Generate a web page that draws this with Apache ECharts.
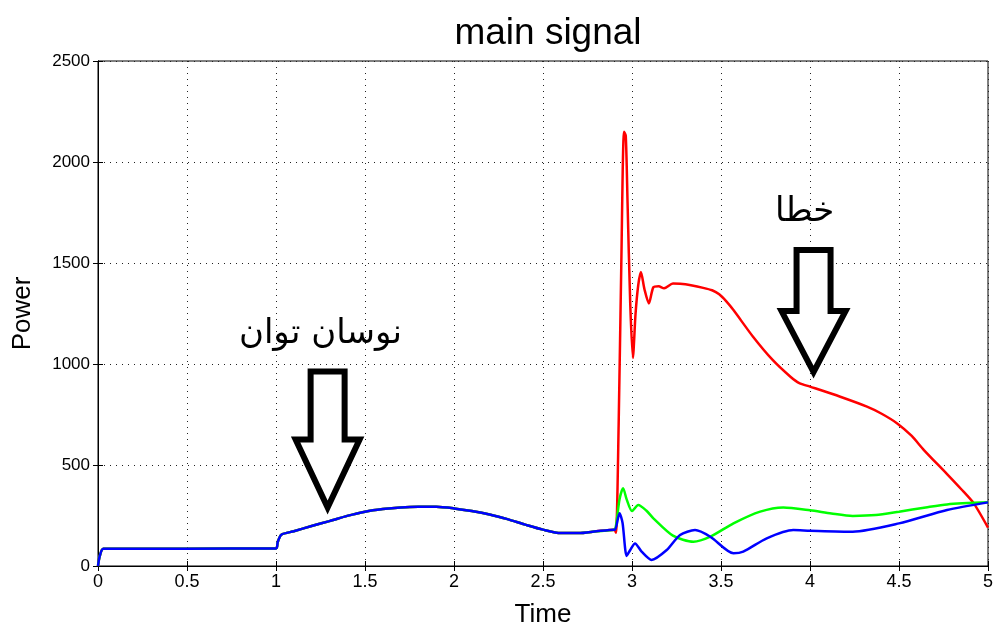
<!DOCTYPE html>
<html>
<head>
<meta charset="utf-8">
<script src="https://cdn.jsdelivr.net/npm/echarts@6/dist/echarts.min.js"></script>
<style>
html, body { margin: 0; padding: 0; background: #fff; }
#main { width: 994px; height: 626px; }
</style>
</head>
<body>
<div id="main"></div>
<script>
// shared part of all three signals (they overlap until the fault)
var commonT = [0, 0.01, 0.03, 0.5, 1.0, 1.01, 1.03, 1.1, 1.2, 1.3, 1.4, 1.5, 1.6, 1.7, 1.8, 1.9, 2.0, 2.1, 2.2, 2.3, 2.4, 2.5, 2.6, 2.7, 2.8, 2.9];
var commonV = [0, 50, 85, 86, 87, 120, 155, 172, 198, 222, 248, 269, 282, 290, 293, 293, 285, 272, 255, 232, 205, 180, 163, 163, 172, 180];

// after the fault
var redT = [2.91, 2.925, 2.94, 2.955, 2.965, 2.975, 2.99, 3.005, 3.02, 3.035, 3.05, 3.07, 3.095, 3.12, 3.15, 3.18, 3.23, 3.3, 3.4, 3.45, 3.49, 3.53, 3.57, 3.68, 3.79, 3.89, 3.94, 4.0, 4.17, 4.32, 4.4, 4.49, 4.57, 4.64, 4.77, 4.85, 4.92, 5.0];
var redV = [165, 700, 1500, 2150, 2130, 1800, 1300, 1030, 1250, 1390, 1455, 1370, 1300, 1380, 1385, 1375, 1398, 1395, 1377, 1365, 1345, 1310, 1267, 1135, 1020, 937, 905, 888, 838, 789, 755, 706, 645, 574, 455, 380, 310, 190];

var greenT = [2.91, 2.93, 2.95, 2.97, 3.0, 3.035, 3.08, 3.12, 3.23, 3.345, 3.44, 3.57, 3.72, 3.85, 4.0, 4.12, 4.24, 4.37, 4.5, 4.65, 4.77, 5.0];
var greenV = [200, 330, 385, 330, 272, 302, 275, 236, 150, 120, 145, 211, 269, 290, 276, 260, 248, 252, 269, 290, 305, 315];

var blueT = [2.905, 2.93, 2.947, 2.97, 2.99, 3.017, 3.054, 3.11, 3.195, 3.27, 3.354, 3.44, 3.57, 3.625, 3.757, 3.906, 4.0, 4.24, 4.5, 4.77, 5.0];
var blueV = [180, 261, 213, 50, 79, 112, 71, 30, 79, 153, 178, 145, 63, 71, 137, 178, 175, 170, 211, 277, 315];

// annotations: [time, power] of arrow tip and label centre
var note1 = { text: 'نوسان توان', tip: [1.29, 290], label: [1.25, 1150], len: 136 };
var note2 = { text: 'خطا', tip: [4.02, 960], label: [3.97, 1750], len: 122 };

function pairs(ts, vs) {
	var out = [];
	for (var i = 0; i < ts.length; i++) out.push([ts[i], vs[i]]);
	return out;
}
var base = pairs(commonT, commonV);

var chart = echarts.init(document.getElementById('main'));
var font = 'Liberation Sans, Arial, sans-serif';
var dots = { color: '#222', width: 1, type: [1, 5] };

function lineSeries(color, data) {
	return {
		type: 'line', showSymbol: false, symbol: 'none',
		smooth: 0.25,
		lineStyle: { color: color, width: 2.5 },
		data: data
	};
}

chart.setOption({
	animation: false,
	backgroundColor: '#fff',
	title: {
		text: 'main signal',
		left: 543,
		textAlign: 'center',
		top: 10,
		textStyle: { fontFamily: font, fontSize: 37, fontWeight: 'normal', color: '#000' }
	},
	grid: {
		left: 98, right: 6, top: 61, bottom: 60,
		outerBoundsMode: 'none',
		show: true, borderColor: '#000', borderWidth: 1
	},
	xAxis: [{
		type: 'value', min: 0, max: 5, interval: 0.5,
		name: 'Time', nameLocation: 'middle', nameGap: 36,
		nameTextStyle: { fontFamily: font, fontSize: 26, color: '#000' },
		axisLine: { show: true, onZero: false, lineStyle: { color: '#000', width: 1 } },
		axisTick: { show: true, inside: true, length: 5, lineStyle: { color: '#000' } },
		axisLabel: { fontFamily: font, fontSize: 18, color: '#000', margin: 7 },
		splitLine: { show: true, lineStyle: dots }
	}, {
		type: 'value', min: 0, max: 5, interval: 0.5, position: 'top',
		axisLine: { show: true, lineStyle: { color: '#000' } },
		axisTick: { show: true, inside: true, length: 5, lineStyle: { color: '#000' } },
		axisLabel: { show: false },
		splitLine: { show: false }
	}],
	yAxis: [{
		type: 'value', min: 0, max: 2500, interval: 500,
		name: 'Power', nameLocation: 'middle', nameGap: 62,
		nameTextStyle: { fontFamily: font, fontSize: 26, color: '#000' },
		axisLine: { show: true, onZero: false, lineStyle: { color: '#000', width: 1 } },
		axisTick: { show: true, inside: true, length: 5, lineStyle: { color: '#000' } },
		axisLabel: {
			fontFamily: font, fontSize: 17, color: '#000', margin: 8,
			formatter: function(v) { return String(v); }
		},
		splitLine: { show: true, lineStyle: dots }
	}, {
		type: 'value', min: 0, max: 2500, interval: 500, position: 'right',
		axisLine: { show: true, lineStyle: { color: '#000' } },
		axisTick: { show: true, inside: true, length: 5, lineStyle: { color: '#000' } },
		axisLabel: { show: false },
		splitLine: { show: false }
	}],
	series: [
		lineSeries('#ff0000', base.concat(pairs(redT, redV))),
		lineSeries('#00ff00', base.concat(pairs(greenT, greenV))),
		lineSeries('#0000ff', base.concat(pairs(blueT, blueV)))
	]
});

function arrow(note) {
	var p = chart.convertToPixel({ gridIndex: 0 }, note.tip);
	var x = p[0], y = p[1], L = note.len;
	return {
		type: 'polygon',
		shape: {
			points: [[x - 17, y - L], [x + 17, y - L], [x + 17, y - L / 2], [x + 32, y - L / 2],
				[x, y], [x - 32, y - L / 2], [x - 17, y - L / 2]]
		},
		style: { fill: '#fff', stroke: '#000', lineWidth: 6, lineJoin: 'miter' },
		z: 10
	};
}

function label(note) {
	var p = chart.convertToPixel({ gridIndex: 0 }, note.label);
	return {
		type: 'text',
		x: p[0], y: p[1],
		style: {
			text: note.text, fill: '#000',
			font: '34px "DejaVu Sans", "Noto Sans", sans-serif',
			align: 'center', verticalAlign: 'middle'
		},
		z: 10
	};
}

chart.setOption({
	graphic: [arrow(note1), label(note1), arrow(note2), label(note2)]
});
</script>
</body>
</html>
